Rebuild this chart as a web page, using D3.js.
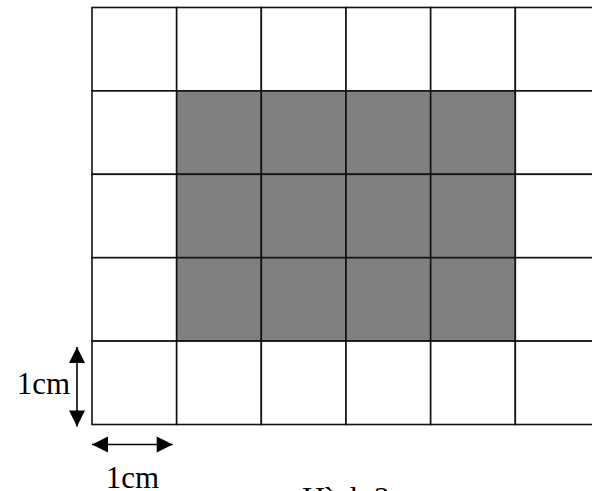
<!DOCTYPE html>
<html>
<head>
<meta charset="utf-8">
<script src="https://cdn.jsdelivr.net/npm/d3@7"></script>
<style>
  body { margin: 0; background: #fff; }
  svg { display: block; }
</style>
</head>
<body>
<div class="grid"></div>
<script>
// grid data
const columns = ["c0", "c1", "c2", "c3", "c4", "c5"]
const rows = ["r0", "r1", "r2", "r3", "r4"]
const shadedCols = ["c1", "c2", "c3", "c4"]
const shadedRows = ["r1", "r2", "r3"]
const unitLabel = "1cm"
const caption = "Hình 2"

const width = 592, height = 491
const svg = d3.select(".grid").append("svg").attr("width", width).attr("height", height)

const x = d3.scaleBand().domain(columns).range([92, 600])
const y = d3.scaleBand().domain(rows).range([7.5, 424.5])

const cells = []
rows.forEach(r => columns.forEach(c => {
    cells.push({row: r, col: c, shaded: shadedRows.includes(r) && shadedCols.includes(c)})
}))

svg.selectAll("rect.cell").data(cells).enter().append("rect")
.attr("class", "cell")
.attr("x", d => x(d.col))
.attr("y", d => y(d.row))
.attr("width", x.bandwidth())
.attr("height", y.bandwidth())
.attr("fill", d => d.shaded ? "#808080" : "#fff")
.attr("stroke", "#111")
.attr("stroke-width", 1.6)

// double arrows
function arrow(x1, y1, x2, y2) {
    const len = 16, half = 8
    const ang = Math.atan2(y2 - y1, x2 - x1)
    const g = svg.append("g")
    g.append("line")
    .attr("x1", x1).attr("y1", y1).attr("x2", x2).attr("y2", y2)
    .attr("stroke", "#000").attr("stroke-width", 1.6)
    const head = (px, py, a) => {
        const bx = px - len * Math.cos(a), by = py - len * Math.sin(a)
        const pts = [[px, py],
            [bx + half * Math.sin(a), by - half * Math.cos(a)],
            [bx - half * Math.sin(a), by + half * Math.cos(a)]]
        g.append("path").attr("d", d3.line()(pts) + "Z").attr("fill", "#000")
    }
    head(x2, y2, ang)
    head(x1, y1, ang + Math.PI)
}

const lastRow = rows[rows.length - 1]
const firstCol = columns[0]
const ax = x(firstCol) - 15
arrow(ax, y(lastRow) + 6, ax, y(lastRow) + y.bandwidth() + 2)

const ay = y(lastRow) + y.bandwidth() + 20
arrow(x(firstCol), ay, x(firstCol) + x.bandwidth() - 4, ay)

const font = "'Liberation Serif', 'Times New Roman', serif"

svg.append("text")
.attr("x", ax - 7).attr("y", y(lastRow) + y.bandwidth() / 2 + 11)
.attr("text-anchor", "end")
.style("font-family", font).style("font-size", "31px")
.text(unitLabel)

svg.append("text")
.attr("x", x(firstCol) + x.bandwidth() / 2 - 2).attr("y", ay + 43)
.attr("text-anchor", "middle")
.style("font-family", font).style("font-size", "31px")
.text(unitLabel)

svg.append("text")
.attr("x", 346).attr("y", 509)
.attr("text-anchor", "middle")
.style("font-family", font).style("font-size", "32px")
.text(caption)
</script>
</body>
</html>
